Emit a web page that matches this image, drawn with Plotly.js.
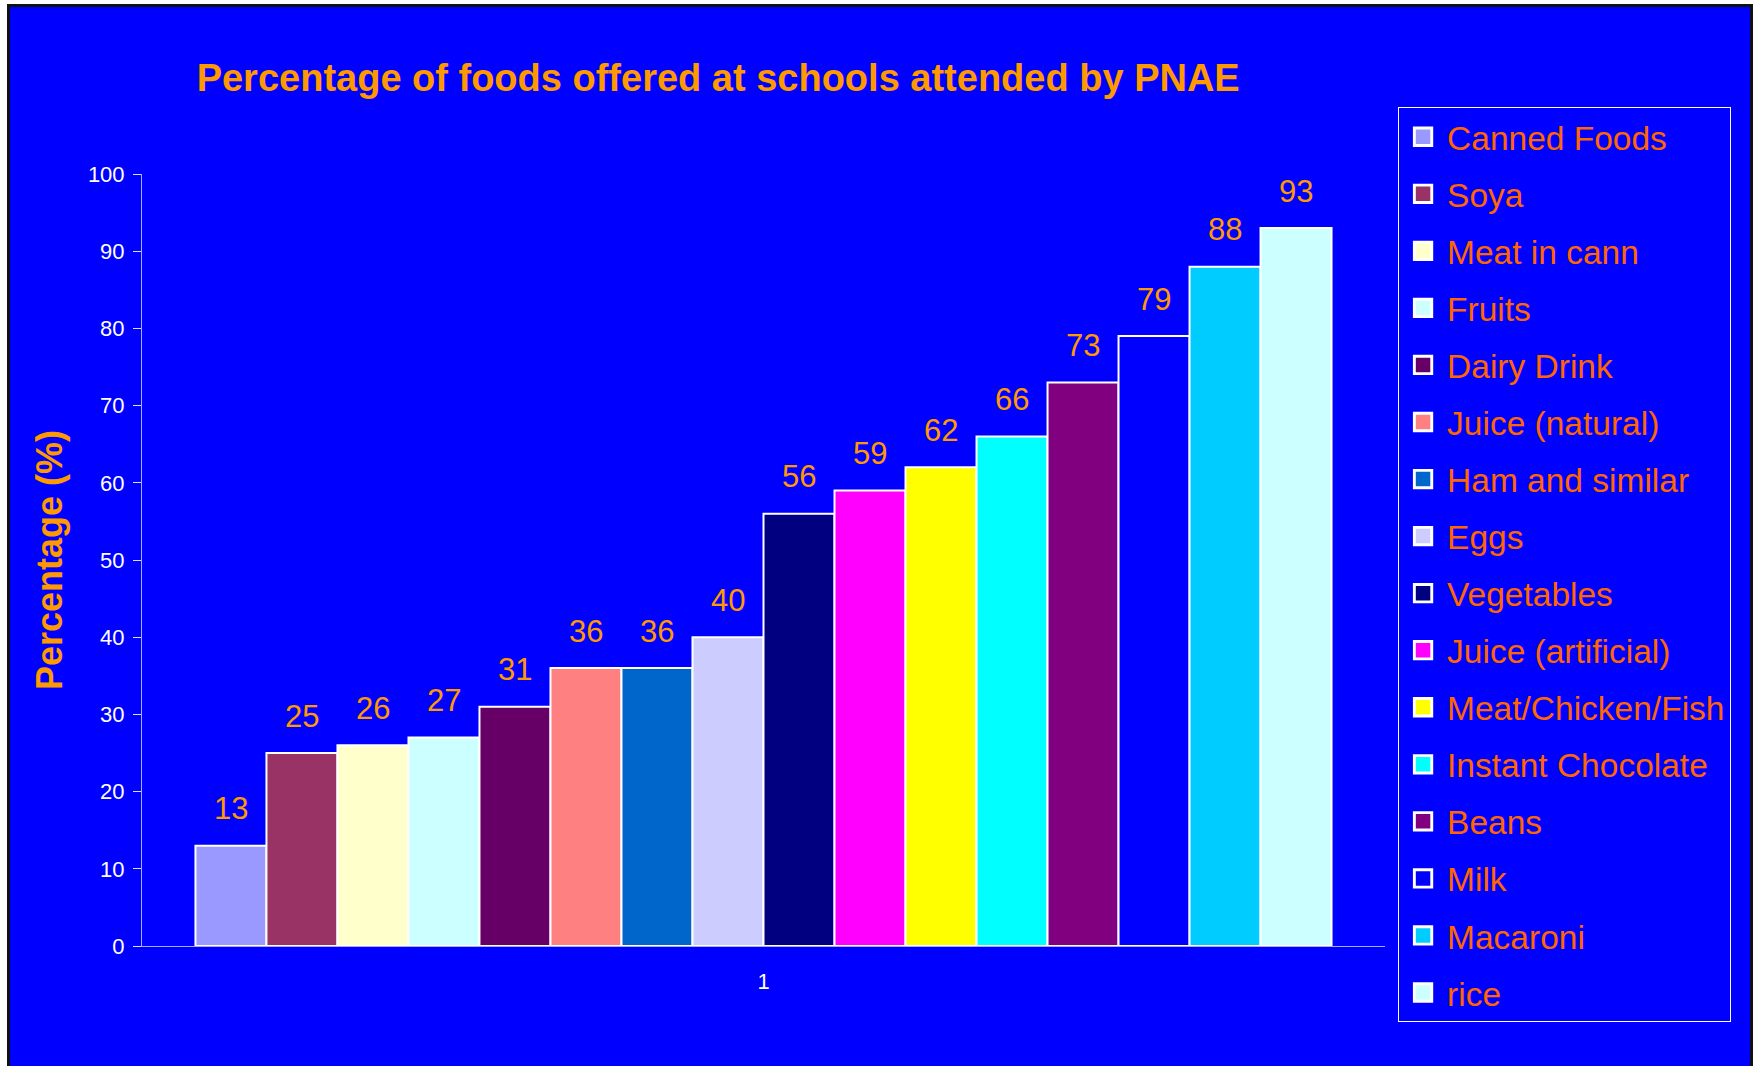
<!DOCTYPE html>
<html>
<head>
<meta charset="utf-8">
<script src="https://cdn.plot.ly/plotly-3.0.1.min.js"></script>
<style>
html, body { margin: 0; padding: 0; background: #ffffff; overflow: hidden; width: 1756px; height: 1066px; }
#frame { position: absolute; left: 7px; top: 4px; border: 3px solid #111111; width: 1740px; height: 1062px; background: #0000FF; }
#chart { width: 1740px; height: 1062px; }
</style>
</head>
<body>
<div id="frame"><div id="chart"></div></div>
<script>
const categories = ['1'];
const foods = ['Canned Foods', 'Soya', 'Meat in cann', 'Fruits', 'Dairy Drink', 'Juice (natural)',
  'Ham and similar', 'Eggs', 'Vegetables', 'Juice (artificial)', 'Meat/Chicken/Fish',
  'Instant Chocolate', 'Beans', 'Milk', 'Macaroni', 'rice'];
const percentages = [13, 25, 26, 27, 31, 36, 36, 40, 56, 59, 62, 66, 73, 79, 88, 93];
const colors = ['#9999FF', '#993366', '#FFFFCC', '#CCFFFF', '#660066', '#FF8080',
  '#0066CC', '#CCCCFF', '#000080', '#FF00FF', '#FFFF00',
  '#00FFFF', '#800080', '#0000FF', '#00CCFF', '#CCFFFF'];
const yTicks = [0, 10, 20, 30, 40, 50, 60, 70, 80, 90, 100];

const FONT = 'Arial, "Liberation Sans", Helvetica, sans-serif';
const BARGAP = 0.086;

const traces = foods.map((name, i) => ({
  type: 'bar',
  name: name,
  legendgroup: 'g' + i,
  x: categories,
  y: [percentages[i]],
  marker: { color: colors[i], line: { color: '#FFFFFF', width: 2 } },
  hoverinfo: 'skip'
}));

// value labels placed above each grouped bar, positions derived from the group layout
const n = foods.length;
const slot = (1 - BARGAP) / n;
const annotations = percentages.map((v, i) => ({
  xref: 'x', yref: 'y',
  x: -(1 - BARGAP) / 2 + (i + 0.5) * slot,
  y: v,
  text: String(v),
  showarrow: false,
  xanchor: 'center', yanchor: 'middle',
  yshift: 37,
  font: { family: FONT, size: 31, color: '#FF9900' }
}));

const layout = {
  width: 1740,
  height: 1062,
  paper_bgcolor: '#0000FF',
  plot_bgcolor: '#0000FF',
  margin: { l: 132, r: 365, t: 167, b: 123, pad: 0 },
  barmode: 'group',
  bargap: BARGAP,
  bargroupgap: 0,
  font: { family: FONT, color: '#FFFFFF' },
  title: {
    text: '<b>Percentage of foods offered at schools attended by PNAE</b>',
    font: { family: FONT, size: 38, color: '#FF9900' },
    x: 0.407, xref: 'container', xanchor: 'center',
    y: 0.933, yref: 'container', yanchor: 'middle'
  },
  xaxis: {
    type: 'category',
    showline: true, linecolor: '#AAAAFF', linewidth: 1,
    ticks: '', showgrid: false, zeroline: false,
    tickfont: { family: FONT, size: 22, color: '#FFFFFF' },
    ticklabelstandoff: 16,
    fixedrange: true
  },
  yaxis: {
    range: [0, 100],
    tickvals: yTicks,
    ticktext: yTicks.map(String),
    showline: true, linecolor: '#AAAAFF', linewidth: 1,
    ticks: 'outside', ticklen: 8, tickcolor: '#DDDDFF', tickwidth: 1,
    showgrid: false, zeroline: false,
    tickfont: { family: FONT, size: 22, color: '#FFFFFF' },
    ticklabelstandoff: 4,
    title: {
      text: '<b>Percentage (%)</b>',
      font: { family: FONT, size: 36, color: '#FF9900' },
      standoff: 14
    },
    fixedrange: true
  },
  annotations: annotations,
  legend: {
    x: 1.0105, xanchor: 'left',
    y: 1.0862, yanchor: 'top',
    bgcolor: '#0000FF',
    bordercolor: '#FFFFFF', borderwidth: 1,
    font: { family: FONT, size: 33.5, color: '#FF6600' },
    tracegroupgap: 10.5,
    itemwidth: 38,
    maxheight: 1
  },
  showlegend: true
};

Plotly.newPlot('chart', traces, layout, { displayModeBar: false, staticPlot: true }).then(() => {
  document.querySelectorAll('.legend .legendpoints path').forEach(p => {
    const t = p.getAttribute('transform') || '';
    p.setAttribute('transform', (t + ' scale(1.45)').trim());
  });
});
</script>
</body>
</html>
